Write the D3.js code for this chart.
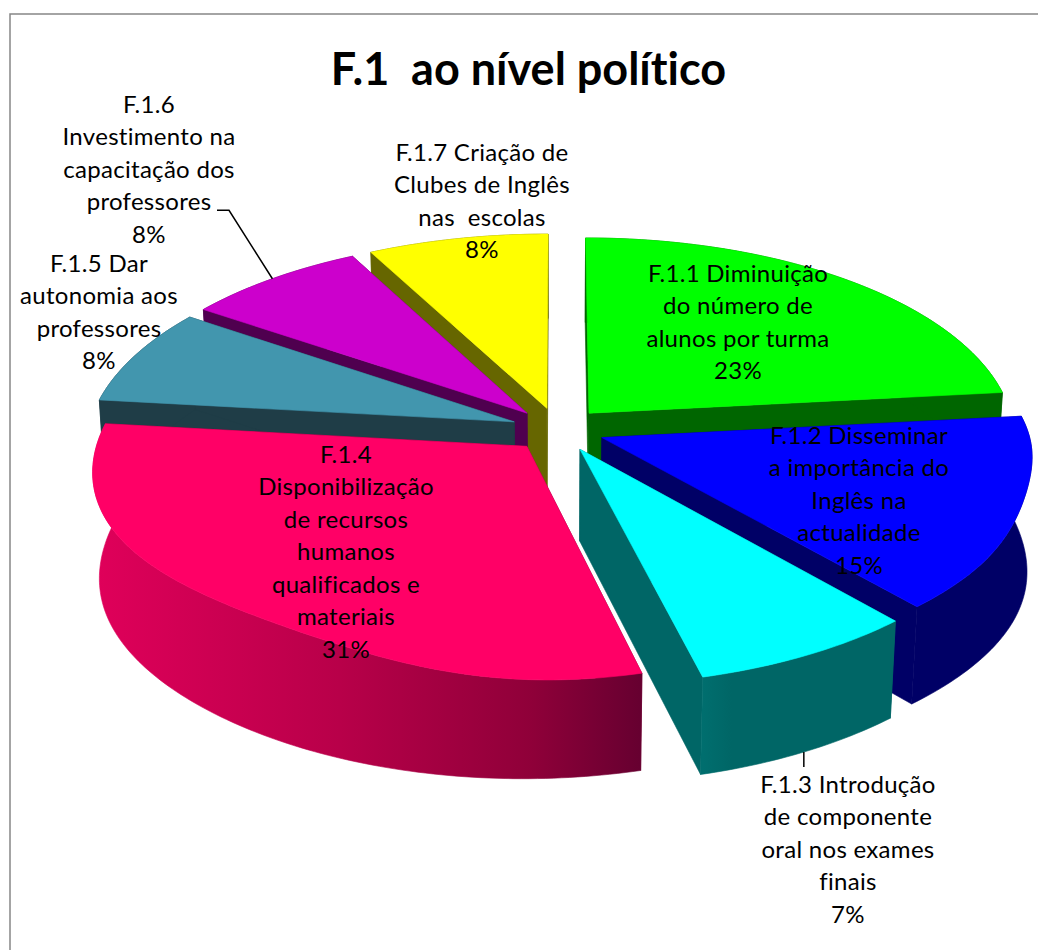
<!DOCTYPE html>
<html>
<head>
<meta charset="utf-8">
<script src="https://cdn.jsdelivr.net/npm/d3@7"></script>
<style>
html,body{margin:0;padding:0;background:#fff;overflow:hidden}
svg{display:block}
text{font-family:Lato,"Open Sans",sans-serif;fill:#000;white-space:pre;font-variant-ligatures:none}
</style>
</head>
<body>
<svg id="chart" width="1038" height="950"></svg>
<script>
// Survey shares, clockwise from twelve o'clock
const chartTitle = "F.1  ao nível político";
const categories = ["F.1.1","F.1.2","F.1.3","F.1.4","F.1.5","F.1.6","F.1.7"];
const values = [23.3, 15.3, 7.49, 30.7, 7.74, 7.74, 7.74];
const labelLines = [
  ["F.1.1 Diminuição","do número de","alunos por turma"],
  ["F.1.2 Disseminar","a importância do","Inglês na","actualidade"],
  ["F.1.3 Introdução","de componente","oral nos exames","finais"],
  ["F.1.4","Disponibilização","de recursos","humanos","qualificados e","materiais"],
  ["F.1.5 Dar","autonomia aos","professores"],
  ["F.1.6","Investimento na","capacitação dos","professores"],
  ["F.1.7 Criação de","Clubes de Inglês","nas  escolas"]
];
const topColors  = ["#00ff00","#0000ff","#00ffff","#ff0066","#4296ae","#cc00cc","#ffff00"];
const wallColors = ["#006600","#000066","#006666","#7a0035","#1f3d47","#4f004f","#666600"];
// Label block centre and first baseline
const labelCentreX = [738, 859, 848, 346, 99, 149, 482];
const labelTopY    = [282, 444, 793, 463, 272, 113, 161];
const lineStep = 32.45;

// Far slices are painted first so nearer ones overlap them
const paintOrder = [6, 5, 4, 3, 0, 1, 2];
// How far the upper rim of a wide slice sags inwards at mid-arc
const rimSag = [0, 0.01, 0, 0.065, 0, 0, 0];

const W = 1038, H = 950;
const cx = 558, cy = 429.5;
const scaleX = 426, scaleY = 201, persp = 0.125;
const explode = 0.11;
const wallDepth = 91, wallTilt = 6, wallFlare = 8;
const wallShrinkLeft = 0.985, wallShrinkRight = 0.985;

const svg = d3.select("#chart");
const defs = svg.append("defs");

// Disc coordinates (u right, v away from the viewer) to page pixels
function project(u, v, lower) {
  const w = 1 + persp * v;
  const x = scaleX * u / w, y = -scaleY * v / w;
  if (!lower) return [cx + x, cy + y];
  const shrink = u < 0 ? wallShrinkLeft : wallShrinkRight;
  return [cx + x * shrink, cy + y + wallDepth - wallTilt * v + wallFlare * Math.pow(u, 6)];
}

const line = d3.line();
const total = d3.sum(values);
const slices = d3.pie().sort(null).startAngle(0).endAngle(2 * Math.PI)(values);

function discPoint(s, a, r) {
  const m = (s.startAngle + s.endAngle) / 2;
  return [explode * Math.sin(m) + r * Math.sin(a), explode * Math.cos(m) + r * Math.cos(a)];
}
function rimAngles(s) {
  const n = Math.max(8, Math.ceil((s.endAngle - s.startAngle) * 60));
  return d3.range(n + 1).map(i => s.startAngle + (s.endAngle - s.startAngle) * i / n);
}
function topRadius(s, i, a) {
  const t = (a - s.startAngle) / (s.endAngle - s.startAngle);
  return 1 - rimSag[i] * Math.pow(Math.sin(Math.PI * Math.pow(t, 0.8)), 4);
}

// Frame of the chart area, running off the right and bottom of the page
svg.append("rect").attr("x", 10).attr("y", 14).attr("width", W + 20).attr("height", H + 20)
  .attr("fill", "#fff").attr("stroke", "#868686").attr("stroke-width", 1.5);

// Lit-from-the-left shading on the curved walls
function rimGradient(id, i, stops) {
  const xs = rimAngles(slices[i]).map(a => project(...discPoint(slices[i], a, 1))[0]);
  const g = defs.append("linearGradient").attr("id", id).attr("gradientUnits", "userSpaceOnUse")
    .attr("x1", d3.min(xs)).attr("x2", d3.max(xs)).attr("y1", 0).attr("y2", 0);
  stops.forEach(([o, c]) => g.append("stop").attr("offset", o).attr("stop-color", c));
  return `url(#${id})`;
}
const rimFill = wallColors.slice();
rimFill[3] = rimGradient("redWall", 3, [[0, "#e0005a"], [0.45, "#b80049"], [0.8, "#8f0039"], [1, "#660030"]]);
rimFill[2] = rimGradient("cyanWall", 2, [[0, "#006e6e"], [0.15, "#006666"], [1, "#006666"]]);

const layer = svg.append("g");
paintOrder.forEach(i => {
  const s = slices[i];
  const apex = discPoint(s, 0, 0);
  const angles = rimAngles(s);
  const topRim = angles.map(a => project(...discPoint(s, a, topRadius(s, i, a))));
  const lowRim = angles.map(a => project(...discPoint(s, a, 1), true));
  const apexTop = project(...apex), apexLow = project(...apex, true);
  const g = layer.append("g").attr("class", "slice");
  const paint = (pts, fill) => g.append("path").attr("d", line(pts) + "Z")
    .attr("fill", fill).attr("stroke", fill).attr("stroke-width", 0.6).attr("stroke-linejoin", "round");
  paint([apexTop, topRim[0], lowRim[0], apexLow], wallColors[i]);
  paint([apexTop, topRim[topRim.length - 1], lowRim[lowRim.length - 1], apexLow], wallColors[i]);
  paint(topRim.concat(lowRim.slice().reverse()), rimFill[i]);
  paint([apexTop].concat(topRim), topColors[i]);
});

// Leader lines, each anchored on the rim of its slice
const midRim = (i, lower) => {
  const s = slices[i], m = (s.startAngle + s.endAngle) / 2;
  return project(...discPoint(s, m, 1), lower);
};
const leaders = svg.append("g").attr("fill", "none").attr("stroke", "#000").attr("stroke-width", 1.5);
const p6 = midRim(5, false);
leaders.append("path").attr("d", line([[labelCentreX[5] + 68, labelTopY[5] + 3 * lineStep], [labelCentreX[5] + 80, labelTopY[5] + 3 * lineStep], p6]));
const p3 = midRim(2, true);
leaders.append("path").attr("d", line([p3, [p3[0], labelTopY[2] - 26]]));

// Title and data labels
svg.append("text").attr("x", 528.5).attr("y", 85).attr("text-anchor", "middle")
  .attr("font-size", 45).attr("font-weight", 700).text(chartTitle);

const pct = d3.format(".0%");
labelLines.forEach((lines, i) => {
  const t = svg.append("text").attr("font-size", 24).attr("letter-spacing", 0.3).attr("text-anchor", "middle");
  lines.concat(pct(values[i] / total)).forEach((l, k) => {
    t.append("tspan").attr("x", labelCentreX[i]).attr("y", labelTopY[i] + k * lineStep).text(l);
  });
});
</script>
</body>
</html>
